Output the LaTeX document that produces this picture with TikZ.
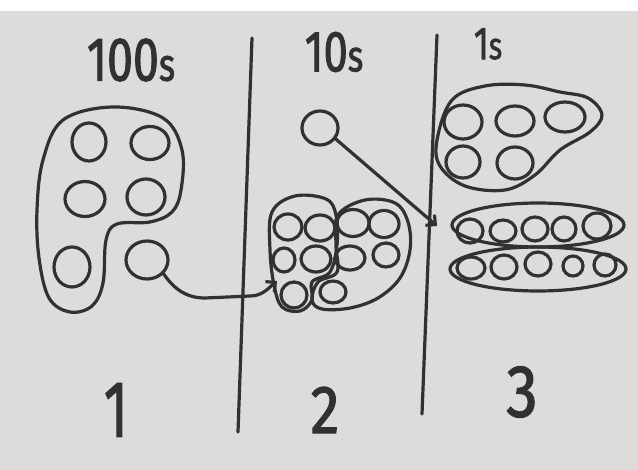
\documentclass[tikz,border=0pt]{standalone}
\usepackage{fontspec}
\setmainfont{Fira Sans}
\newfontfamily\handfont[FakeBold=1.8]{Fira Sans}
\usetikzlibrary{shapes.geometric,arrows.meta}
\definecolor{ink}{HTML}{333130}
\definecolor{paper}{HTML}{DEDCDA}
\tikzset{
  ink/.style={draw=ink, line width=3.2pt, line cap=round, line join=round},
  bead/.style={ink, ellipse, inner sep=0pt, minimum width=#1},
  bead/.default=34pt,
  hand/.style={text=ink, inner sep=0pt, font=\handfont},
  arr/.style={ink, -{Straight Barb[length=7pt,width=14pt,line width=3.2pt]}},
}
\begin{document}
\begin{tikzpicture}[x=1pt,y=-1pt]
\useasboundingbox (0,0) rectangle (638,470);
\fill[paper] (0,0) rectangle (638,470);
\fill[white] (0,0) rectangle (638,11);
% headings
\node[hand, xscale=0.75] (hd1) at (131,60) {\fontsize{62}{62}\selectfont 100\fontsize{46}{46}\selectfont s};
\node[hand, xscale=0.75] (hd2) at (334,52) {\fontsize{58}{58}\selectfont 10\fontsize{44}{44}\selectfont s};
\node[hand, xscale=0.75] (hd3) at (488,44) {\fontsize{46}{46}\selectfont 1\fontsize{38}{38}\selectfont s};
% divider lines
\coordinate (d1t) at (252,38); \coordinate (d1b) at (238,432);
\coordinate (d2t) at (437,35); \coordinate (d2b) at (422,414);
\draw[ink] (d1t) -- (d1b);
\draw[ink] (d2t) -- (d2b);
% column numbers
\node[hand, xscale=0.7] (n1) at (116,410) {\fontsize{80}{80}\selectfont 1};
\node[hand, xscale=0.85] (n2) at (325,410) {\fontsize{68}{68}\selectfont 2};
\node[hand, xscale=0.85] (n3) at (522,392) {\fontsize{74}{74}\selectfont 3};
% ---- hundreds
\node[bead=34pt, minimum height=38pt] (h1) at (89,142) {};
\node[bead=38pt, minimum height=33pt] (h2) at (150,143) {};
\node[bead=40pt, minimum height=35pt] (h3) at (85,199) {};
\node[bead=38pt, minimum height=36pt] (h4) at (146,197) {};
\node[bead=36pt, minimum height=40pt] (h5) at (72,267) {};
\node[bead=42pt, minimum height=38pt] (h6) at (147,260) {};
\draw[ink] plot[smooth cycle, tension=0.6] coordinates {
 (63,120) (113,107) (163,118) (182,150) (181,190) (172,212) (150,222)
 (117,224) (106,240) (103,283) (92,306) (70,312) (49,298) (39,258) (37,210) (43,160)};
\coordinate (a1e) at (277,281);
\draw[arr] (h6.-40) to[out=-55,in=180] (205,298) -- (250,296) to[out=0,in=-140] (a1e);
% ---- tens
\node[bead=36pt, minimum height=34pt] (t0) at (320,128) {};
\coordinate (a2e) at (437,226);
\draw[arr] (t0.-35) -- (a2e);
\node[bead=28pt, minimum height=26pt] (t1) at (288,227) {};
\node[bead=30pt, minimum height=26pt] (t2) at (320,228) {};
\node[bead=32pt, minimum height=27pt] (t3) at (353,223) {};
\node[bead=30pt, minimum height=27pt] (t4) at (384,224) {};
\node[bead=22pt, minimum height=24pt] (t5) at (284,260) {};
\node[bead=30pt, minimum height=26pt] (t6) at (316,259) {};
\node[bead=30pt, minimum height=24pt] (t7) at (350,258) {};
\node[bead=26pt, minimum height=24pt] (t8) at (386,255) {};
\node[bead=26pt, minimum height=26pt] (t9) at (294,295) {};
\node[bead=26pt, minimum height=22pt] (t10) at (333,292) {};
\draw[ink] plot[smooth cycle, tension=0.6] coordinates {
 (272,212) (295,196) (326,199) (336,215) (337,245) (330,272) (312,282)
 (312,300) (300,311) (282,307) (274,285) (270,250)};
\draw[ink] plot[smooth cycle, tension=0.6] coordinates {
 (338,215) (365,200) (395,203) (408,222) (410,250) (400,278) (378,298)
 (350,308) (322,309) (312,300) (318,282) (337,272) (336,245)};
% ---- ones
\node[bead=38pt, minimum height=34pt] (o1) at (463,122) {};
\node[bead=38pt, minimum height=30pt] (o2) at (515,121) {};
\node[bead=40pt, minimum height=30pt] (o3) at (565,117) {};
\node[bead=34pt, minimum height=32pt] (o4) at (463,162) {};
\node[bead=36pt, minimum height=32pt] (o5) at (515,163) {};
\draw[ink] plot[smooth cycle, tension=0.6] coordinates {
 (437,140) (452,100) (485,86) (525,85) (560,92) (588,98) (602,115) (590,132)
 (560,150) (535,175) (505,190) (465,186) (440,166)};
\node[ink, ellipse, minimum width=172pt, minimum height=44pt, inner sep=0pt] (e1) at (538,225) {};
\node[ink, ellipse, minimum width=176pt, minimum height=44pt, inner sep=0pt] (e2) at (538,269) {};
\node[bead=26pt, minimum height=24pt] (u1) at (470,231) {};
\node[bead=26pt, minimum height=22pt] (u2) at (503,231) {};
\node[bead=26pt, minimum height=24pt] (u3) at (535,229) {};
\node[bead=24pt, minimum height=24pt] (u4) at (564,229) {};
\node[bead=28pt, minimum height=26pt] (u5) at (597,226) {};
\node[bead=28pt, minimum height=22pt] (v1) at (471,268) {};
\node[bead=26pt, minimum height=24pt] (v2) at (504,267) {};
\node[bead=26pt, minimum height=24pt] (v3) at (538,264) {};
\node[bead=20pt, minimum height=20pt] (v4) at (573,266) {};
\node[bead=22pt, minimum height=22pt] (v5) at (605,265) {};
\end{tikzpicture}
\end{document}
